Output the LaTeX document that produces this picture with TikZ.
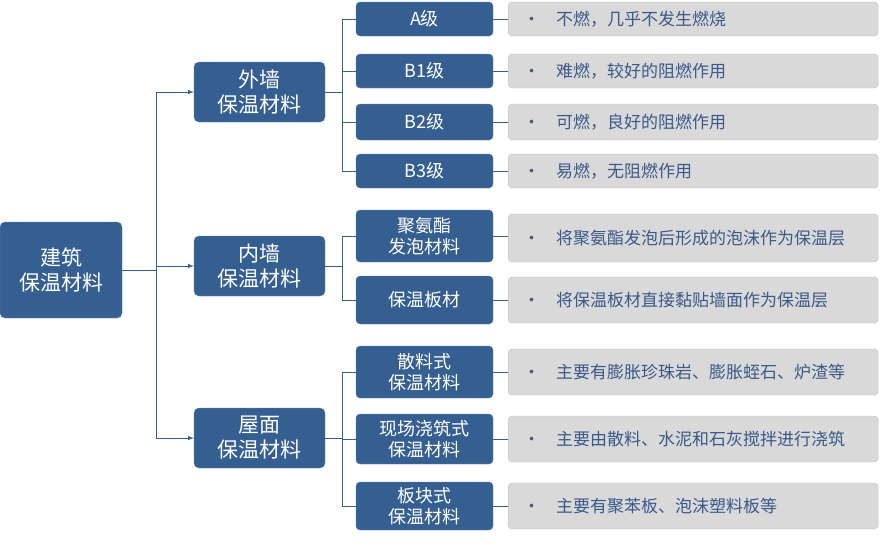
\documentclass[tikz,border=0pt]{standalone}
\usepackage{fontspec}
\setmainfont{Noto Sans CJK SC}
\definecolor{boxblue}{HTML}{365F91}
\definecolor{leafgray}{HTML}{D9D9D9}
\definecolor{leaftext}{HTML}{3A5A8A}
\newcommand{\leafdot}{\hspace*{10pt}•\hspace{16pt}}
\tikzset{
  mainbox/.style={draw=boxblue!80!white,fill=boxblue,rounded corners=5pt,text=white,align=center,font=\fontsize{21}{25}\selectfont,inner sep=0pt},
  subbox/.style={draw=boxblue!80!white,fill=boxblue,rounded corners=4pt,text=white,align=center,font=\fontsize{18}{21}\selectfont,inner sep=0pt,minimum width=137pt},
  leafbox/.style={draw=black!25,fill=leafgray,rounded corners=4pt,text=leaftext,anchor=west,font=\fontsize{17}{20}\selectfont,inner sep=0pt,minimum width=370pt,text width=360pt,align=left},
  link/.style={draw=boxblue,line width=1pt},
}
\begin{document}
\begin{tikzpicture}[x=1pt,y=-1pt]
\useasboundingbox (0,0) rectangle (880,542);
%Root and first level
\node[mainbox,minimum width=122pt,minimum height=96pt] (root) at (61,270) {建筑\\保温材料};
\node[mainbox,minimum width=131pt,minimum height=60pt] (outer) at (259.5,92) {外墙\\保温材料};
\node[mainbox,minimum width=131pt,minimum height=60pt] (inner) at (259.5,266) {内墙\\保温材料};
\node[mainbox,minimum width=131pt,minimum height=60pt] (roof) at (259.5,438) {屋面\\保温材料};
\coordinate (trunk) at (156,270);
\draw[link] (root.east) -- (trunk);
\foreach \n in {outer,inner,roof}
  \draw[link,-latex] (trunk) |- (\n.west);
%Second level
\node[subbox,minimum height=34pt] (a) at (424.5,19) {A级};
\node[subbox,minimum height=34pt] (b1) at (424.5,71) {B1级};
\node[subbox,minimum height=36pt] (b2) at (424.5,122) {B2级};
\node[subbox,minimum height=34pt] (b3) at (424.5,171) {B3级};
\node[subbox,minimum height=52pt] (pu) at (424.5,236) {聚氨酯\\发泡材料};
\node[subbox,minimum height=48pt] (board) at (424.5,300) {保温板材};
\node[subbox,minimum height=52pt] (loose) at (424.5,372) {散料式\\保温材料};
\node[subbox,minimum height=50pt] (cast) at (424.5,439) {现场浇筑式\\保温材料};
\node[subbox,minimum height=48pt] (block) at (424.5,506) {板块式\\保温材料};
\coordinate (outerbus) at (342,92);
\coordinate (innerbus) at (342,266);
\coordinate (roofbus) at (342,438);
\draw[link] (outer.east) -- (outerbus);
\draw[link] (inner.east) -- (innerbus);
\draw[link] (roof.east) -- (roofbus);
\foreach \n in {a,b1,b2,b3} \draw[link] (outerbus) |- (\n.west);
\foreach \n in {pu,board} \draw[link] (innerbus) |- (\n.west);
\foreach \n in {loose,cast,block} \draw[link] (roofbus) |- (\n.west);
%Leaves
\node[leafbox,minimum height=34pt] (la) at (508,19) {\leafdot 不燃，几乎不发生燃烧};
\node[leafbox,minimum height=34pt] (lb1) at (508,71) {\leafdot 难燃，较好的阻燃作用};
\node[leafbox,minimum height=36pt] (lb2) at (508,122) {\leafdot 可燃，良好的阻燃作用};
\node[leafbox,minimum height=34pt] (lb3) at (508,171) {\leafdot 易燃，无阻燃作用};
\node[leafbox,minimum height=48pt] (lpu) at (508,238) {\leafdot 将聚氨酯发泡后形成的泡沫作为保温层};
\node[leafbox,minimum height=46pt] (lboard) at (508,300) {\leafdot 将保温板材直接黏贴墙面作为保温层};
\node[leafbox,minimum height=46pt] (lloose) at (508,372) {\leafdot 主要有膨胀珍珠岩、膨胀蛭石、炉渣等};
\node[leafbox,minimum height=46pt] (lcast) at (508,439) {\leafdot 主要由散料、水泥和石灰搅拌进行浇筑};
\node[leafbox,minimum height=46pt] (lblock) at (508,506) {\leafdot 主要有聚苯板、泡沫塑料板等};
\foreach \s/\t in {a/la,b1/lb1,b2/lb2,b3/lb3,pu/lpu,board/lboard,loose/lloose,cast/lcast,block/lblock}
  \draw[link] (\s.east) -- (\s.east -| \t.west);
\end{tikzpicture}
\end{document}
